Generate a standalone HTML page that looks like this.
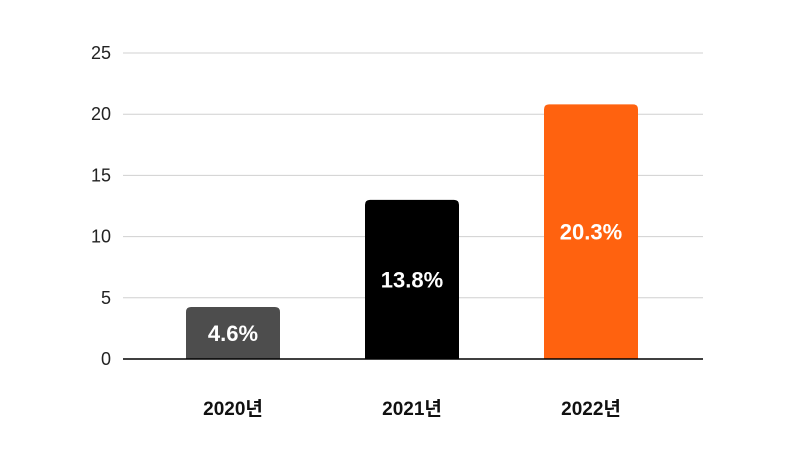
<!DOCTYPE html>
<html><head><meta charset="utf-8"><style>
body{margin:0;background:#fff;width:801px;height:451px;overflow:hidden}
svg{font-family:"Liberation Sans","Noto Sans CJK KR",sans-serif}
</style></head><body>
<svg id="chart" width="801" height="451"></svg>
<script>
const categories=["2020년","2021년","2022년"];
const values=[4.25,13.0,20.8];
const valueLabels=["4.6%","13.8%","20.3%"];
const colors=["#4d4d4d","#000000","#ff620f"];
const yTicks=[0,5,10,15,20,25];
const svg=document.getElementById('chart');
const NS='http://www.w3.org/2000/svg';
const y0=359,y1=53,ymax=25;
const y=v=>y0-(v/ymax)*(y0-y1);
const bandStart=143.5,band=179,barW=94;
const xc=i=>bandStart+band*(i+0.5);
function mk(t,a){const e=document.createElementNS(NS,t);for(const k in a)e.setAttribute(k,a[k]);svg.appendChild(e);return e;}
yTicks.forEach(t=>{
  if(t>0){const g=mk('line',{x1:123,x2:703,y1:y(t),y2:y(t),stroke:'#d0d0d0','stroke-width':1});
  
  }
  const l=mk('text',{x:111,y:y(t)+6,'text-anchor':'end','font-size':18,fill:'#222'});
  l.textContent=t;
  
  
});
values.forEach((v,i)=>{
  const top=y(v);
  const b=mk('path',{d:`M${xc(i)-barW/2},${y0}V${top+5}Q${xc(i)-barW/2},${top} ${xc(i)-barW/2+5},${top}H${xc(i)+barW/2-5}Q${xc(i)+barW/2},${top} ${xc(i)+barW/2},${top+5}V${y0}Z`,fill:colors[i]});
  
  
  const t=mk('text',{x:xc(i),y:(top+y0)/2+8,'text-anchor':'middle','font-size':22,'font-weight':'bold',fill:'#fff'});
  t.textContent=valueLabels[i];
  
  
  const c=mk('text',{x:xc(i),y:415,'text-anchor':'middle','font-size':19,'font-weight':'bold',fill:'#111'});
  c.textContent=categories[i];
  
  
});
const ax=mk('line',{x1:123,x2:703,y1:y0,y2:y0,stroke:'#000','stroke-width':1.5});


</script>
</body></html>
